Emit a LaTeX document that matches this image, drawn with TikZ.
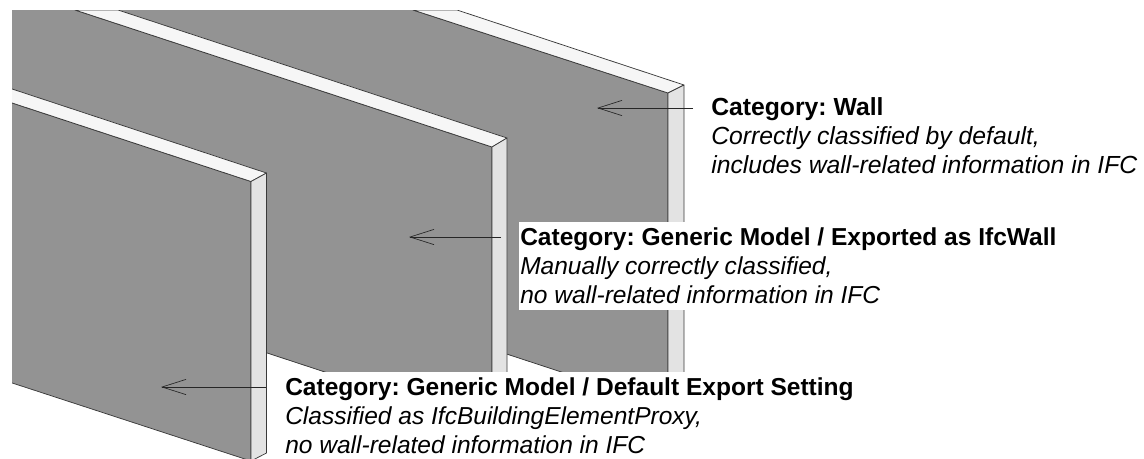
\documentclass[tikz,border=0pt]{standalone}
\usepackage{fontspec}
\setmainfont{Liberation Sans}
\usetikzlibrary{arrows.meta}
\definecolor{faceg}{HTML}{939393}
\definecolor{topg}{HTML}{F6F6F6}
\definecolor{sideg}{HTML}{E3E3E3}
\definecolor{edgeg}{HTML}{3A3A3A}
\tikzset{
  x=0.75pt,y=-0.75pt,
  wallface/.style={fill=faceg,draw=edgeg,line width=0.55pt,line join=round},
  walltop/.style={fill=topg,draw=edgeg,line width=0.55pt,line join=round},
  wallside/.style={fill=sideg,draw=edgeg,line width=0.55pt,line join=round},
  pointer/.style={draw=black!85,line width=0.5pt,-{Straight Barb[length=18pt,width=11.5pt,line width=0.5pt]}},
  label/.style={anchor=base west,align=left,font=\fontsize{18.4pt}{21.75pt}\selectfont\frenchspacing,inner sep=0pt},
  labelbox/.style={label,fill=white,text height=60.75pt,text depth=5.25pt}
}
\newcommand{\lhead}[1]{\textbf{#1}}
\newcommand{\lnote}[1]{\textit{#1}}
\begin{document}
\begin{tikzpicture}
\useasboundingbox (0,0) rectangle (1144,458);
\begin{scope}
\clip (12,10) rectangle (1144,458);
% wall 3 (rear)
\fill[faceg] (113,10) -- (413,10) -- (668,93) -- (668,407) -- (400,319) -- cycle;
\draw[wallface] (413,10) -- (668,93) -- (668,407) -- (400,319);
\draw[walltop] (413,10) -- (457,10) -- (684,85) -- (668,93) -- cycle;
\draw[wallside] (668,93) -- (684,85) -- (684,399) -- (668,407) -- cycle;
% wall 2 (middle)
\fill[faceg] (12,10) -- (75,10) -- (492,147) -- (492,427) -- (12,269) -- cycle;
\draw[wallface] (75,10) -- (492,147) -- (492,427) -- (12,269);
\draw[walltop] (75,10) -- (118,10) -- (507,138) -- (492,147) -- cycle;
\draw[wallside] (492,147) -- (507,138) -- (507,418) -- (492,427) -- cycle;
% wall 1 (front)
\draw[wallface] (0,99) -- (251,181.5) -- (251,461) -- (0,379) -- cycle;
\draw[walltop] (0,85) -- (266.5,173) -- (251,181.5) -- (0,99) -- cycle;
\draw[wallside] (251,181.5) -- (266.5,173) -- (266.5,453) -- (251,461) -- cycle;
\end{scope}
% labels
\node[label,font=\fontsize{18.55pt}{21.75pt}\selectfont\frenchspacing] (lab1) at (711,173) {\lhead{Category: Wall}\\\lnote{Correctly classified by default,}\\\lnote{includes wall-related information in IFC}};
\node[labelbox,inner xsep=0.75pt] (lab2) at (519,303) {\lhead{Category: Generic Model / Exported as IfcWall}\\\lnote{Manually correctly classified,}\\\lnote{no wall-related information in IFC}};
\node[labelbox,inner xsep=3pt] (lab3) at (281,453) {\lhead{Category: Generic Model / Default Export Setting}\\\lnote{Classified as IfcBuildingElementProxy,}\\\lnote{no wall-related information in IFC}};
% pointers
\coordinate (s1) at (693,108); \coordinate (t1) at (597,108);
\coordinate (s2) at (501,237); \coordinate (t2) at (409,237);
\coordinate (s3) at (266,387); \coordinate (t3) at (161,387);
\draw[pointer] (s1) -- (t1);
\draw[pointer] (s2) -- (t2);
\draw[pointer] (s3) -- (t3);
\end{tikzpicture}
\end{document}
